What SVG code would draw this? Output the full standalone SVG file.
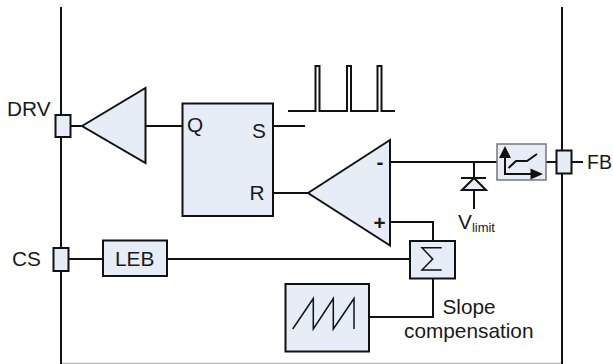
<svg xmlns="http://www.w3.org/2000/svg" width="613" height="364" viewBox="0 0 613 364">
<style>
.n{fill:#e6edf7;stroke:#111;stroke-width:2}
.w{fill:none;stroke:#111;stroke-width:2}
.f{fill:none;stroke:#111;stroke-width:1.5}
.t{font-family:"Liberation Sans",Arial,sans-serif;font-size:20.8px;fill:#1a1a1a}
</style>
<rect width="613" height="364" fill="#fff"/>
<g id="frame">
<path d="M62 363.500H562" fill="none" stroke="#bbb" stroke-width="1.5"/>
<path class="w" d="M61 7V364M562 7V364"/>
</g>
<g id="connectors">
<path class="w" d="M70 126H82M146 126H182M273 126H305M273 193H308M391 162H497M546 162H556M571 162H583M474 162V178M474 190V209M391 222H433V241M69 259H103M168 259H410M433 279V317H369"/>
</g>
<g id="drv-pin"><rect class="n" x="55.500" y="115" width="15" height="22"/><text class="t" x="7" y="116">DRV</text></g>
<g id="cs-pin"><rect class="n" x="53.500" y="248" width="15" height="23"/><text class="t" x="12" y="266">CS</text></g>
<g id="fb-pin"><rect class="n" x="556.500" y="150.500" width="15" height="23"/><text class="t" x="587" y="169" style="font-size:19.500px">FB</text></g>
<g id="driver"><path class="n" d="M82 126L145.500 88V163Z"/></g>
<g id="latch"><rect class="n" x="182.500" y="103.500" width="90.500" height="112.500"/>
<text class="t" x="187" y="132">Q</text><text class="t" x="252" y="138">S</text><text class="t" x="249.500" y="200">R</text></g>
<g id="pulses"><path class="w" d="M288 111H315.500V66H319.500V111H347V66H351V111H377.500V66H381.500V111H395"/></g>
<g id="comparator"><path class="n" d="M308 193L390 140V245.500Z"/>
<text class="t" x="376.500" y="169" font-weight="bold">-</text><text class="t" x="373.500" y="229.500" font-weight="bold">+</text></g>
<g id="diode"><path class="n" d="M474 178L462 190H486Z"/><path class="w" d="M461 178H486"/>
<text class="t" x="458" y="229">V<tspan font-size="13px" dy="3">limit</tspan></text></g>
<g id="limiter"><rect x="497" y="144" width="49" height="36" fill="#e6edf7" stroke="#777" stroke-width="1.500"/>
<path class="w" d="M505 156V174H532"/><path d="M505 146L499 158H511ZM543 174L530.500 168.500V179.500Z" fill="#111"/>
<path class="w" d="M508.500 168L516 161H527L537 154"/></g>
<g id="leb"><rect class="n" x="103" y="240.500" width="64" height="35.500"/><text class="t" x="115" y="265.500">LEB</text></g>
<g id="sum"><rect class="n" x="410" y="241" width="45" height="37.500"/><path class="f" d="M441.700 247.700H422L432.700 259L422 270H441.700"/></g>
<g id="sawtooth"><rect class="n" x="285.500" y="284" width="83.500" height="67.500"/><path class="f" d="M292.700 329L313.300 298.500V329L333.300 298.500V329L354 298.500V329"/></g>
<g id="slope-label"><text class="t" x="442.500" y="314">Slope</text><text class="t" x="404" y="338">compensation</text></g>
</svg>
